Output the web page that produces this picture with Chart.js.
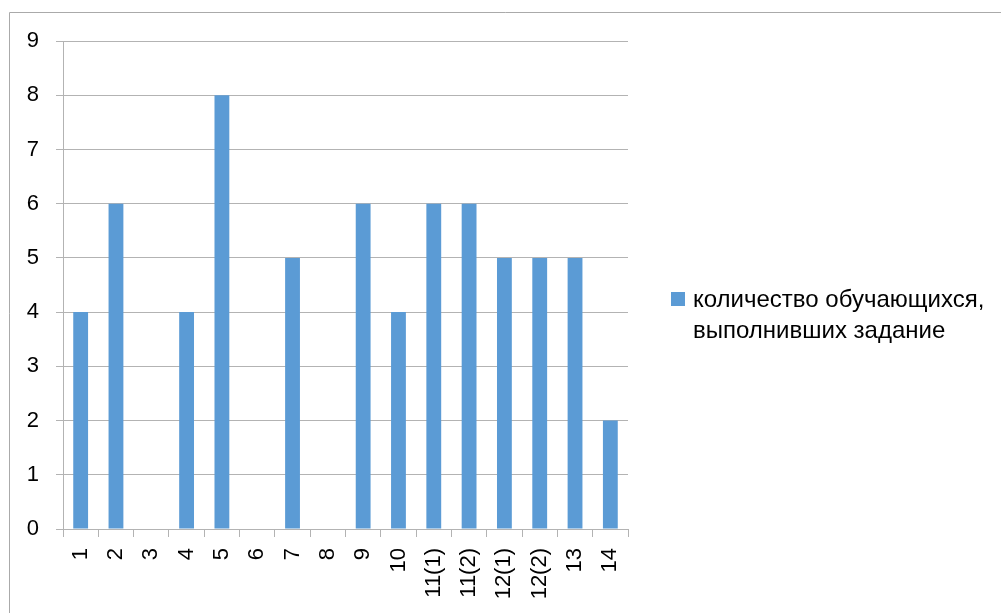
<!DOCTYPE html>
<html>
<head>
<meta charset="utf-8">
<script src="https://cdn.jsdelivr.net/npm/chart.js@4/dist/chart.umd.min.js"></script>
<style>
  html, body { margin: 0; padding: 0; background: #fff; }
  #wrap { position: relative; width: 1001px; height: 613px; }
</style>
</head>
<body>
<div id="wrap"><canvas id="chart" width="1001" height="613"></canvas></div>
<script>
// ===== DATA =====
const categories = ['1', '2', '3', '4', '5', '6', '7', '8', '9', '10', '11(1)', '11(2)', '12(1)', '12(2)', '13', '14'];
const studentsDone = [4, 6, 0, 4, 8, 0, 5, 0, 6, 4, 6, 6, 5, 5, 5, 2];
const legendLines = ['количество обучающихся,', 'выполнивших задание'];
const yTicks = [0, 1, 2, 3, 4, 5, 6, 7, 8, 9];

const barColor = '#5B9BD5';
const gridColor = '#b3b3b3';
const fontFamily = '"Liberation Sans", Arial, sans-serif';

// рамка и легенда рисуются вручную
const framePlugin = {
    id: 'frame',
    afterDraw(chart) {
        const ctx = chart.ctx;
        ctx.save();
        ctx.strokeStyle = '#aaaaaa';
        ctx.lineWidth = 1;
        ctx.beginPath();
        ctx.moveTo(9.5, 614);
        ctx.lineTo(9.5, 12.5);
        ctx.lineTo(1001, 12.5);
        ctx.stroke();

        // legend
        ctx.fillStyle = barColor;
        ctx.fillRect(671, 292, 14, 14);
        ctx.fillStyle = '#000';
        ctx.font = '24px ' + fontFamily;
        ctx.textBaseline = 'alphabetic';
        ctx.textAlign = 'left';
        ctx.fillText(legendLines[0], 693, 307);
        ctx.fillText(legendLines[1], 693, 338);
        ctx.restore();
    }
};

const ctx = document.getElementById('chart');
new Chart(ctx, {
    type: 'bar',
    data: {
        labels: categories,
        datasets: [{
            label: legendLines.join(' '),
            data: studentsDone,
            backgroundColor: barColor,
            borderWidth: 0,
            categoryPercentage: 1,
            barPercentage: 0.42
        }]
    },
    options: {
        responsive: false,
        animation: false,
        layout: { padding: { left: 0, top: 41, right: 373, bottom: 0 } },
        scales: {
            x: {
                afterFit: function(scale) { scale.height = 84; },
                border: { color: gridColor, width: 1 },
                grid: {
                    color: gridColor,
                    drawOnChartArea: false,
                    drawTicks: true,
                    tickLength: 8,
                    offset: true
                },
                ticks: {
                    color: '#000',
                    font: { size: 22, family: fontFamily },
                    minRotation: 90,
                    maxRotation: 90,
                    padding: 11,
                    autoSkip: false
                }
            },
            y: {
                min: 0,
                max: 9,
                afterFit: function(scale) { scale.width = 63; },
                afterBuildTicks: function(scale) {
                    scale.ticks = yTicks.map(v => ({ value: v }));
                },
                border: { color: gridColor, width: 1 },
                grid: {
                    color: gridColor,
                    drawTicks: true,
                    tickLength: 7
                },
                ticks: {
                    color: '#000',
                    font: { size: 22, family: fontFamily },
                    padding: 17,
                    stepSize: 1
                }
            }
        },
        plugins: {
            legend: { display: false },
            tooltip: { enabled: false }
        }
    },
    plugins: [framePlugin]
});
</script>
</body>
</html>
